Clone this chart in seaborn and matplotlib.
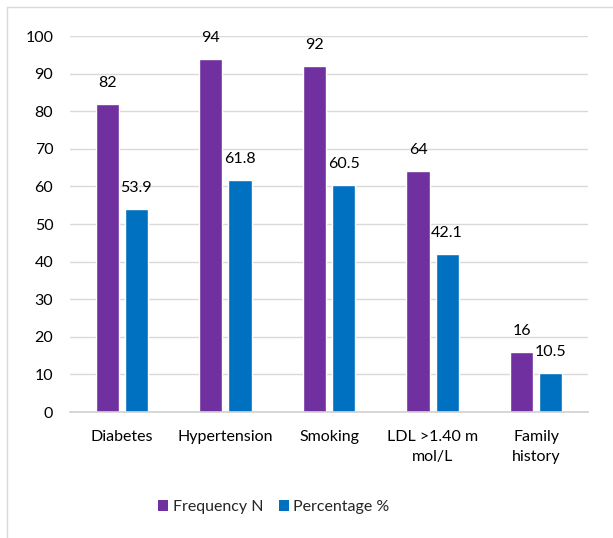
import matplotlib
matplotlib.use("Agg")
import matplotlib.pyplot as plt
from matplotlib.lines import Line2D
from matplotlib.patches import Patch
import seaborn as sns
import pandas as pd

categories = ["Diabetes", "Hypertension", "Smoking", "LDL >1.40 m\nmol/L", "Family\nhistory"]
frequency_n = [82, 94, 92, 64, 16]
percentage = [53.9, 61.8, 60.5, 42.1, 10.5]
series_names = ["Frequency N", "Percentage %"]
colors = ["#7030A0", "#0070C0"]

df = pd.DataFrame({
    "category": categories * 2,
    "value": frequency_n + percentage,
    "series": [series_names[0]] * len(categories) + [series_names[1]] * len(categories),
})

sns.set_theme(style="white")
plt.rcParams["font.family"] = ["Lato", "DejaVu Sans"]

fig = plt.figure(figsize=(6.13, 5.38), dpi=100)
ax = fig.add_axes([70 / 613, 1 - 412 / 538, 518 / 613, 376 / 538])

sns.barplot(data=df, x="category", y="value", hue="series", palette=colors,
            width=0.56, gap=0.2, saturation=1, ax=ax, legend=False, errorbar=None)

for container, vals in zip(ax.containers, [frequency_n, percentage]):
    ax.bar_label(container, labels=[f"{v:g}" for v in vals], padding=10,
                 fontsize=11.5, color="#000000")

ax.set_ylim(0, 100)
ax.set_yticks(range(0, 101, 10))
ax.set_xlim(-0.5, len(categories) - 0.5)
ax.yaxis.grid(True, color="#d9d9d9", linewidth=1)
ax.set_axisbelow(True)
for side in ["left", "right", "top"]:
    ax.spines[side].set_visible(False)
ax.spines["bottom"].set_color("#d0d0d0")
ax.spines["bottom"].set_linewidth(1.2)
ax.tick_params(axis="both", length=0, labelsize=11.5, labelcolor="#000000")
ax.tick_params(axis="y", pad=12)
ax.tick_params(axis="x", pad=13)
for lbl in ax.get_xticklabels():
    lbl.set_linespacing(1.5)
ax.set_xlabel("")
ax.set_ylabel("")

handles = [Patch(facecolor=c, edgecolor="none") for c in colors]
fig.legend(handles, series_names, loc="center", bbox_to_anchor=(274 / 613, 1 - 507 / 538),
           ncol=2, frameon=False, fontsize=11.5, handlelength=0.6, handleheight=0.7,
           handletextpad=0.3, columnspacing=1.0)

# chart frame
fig.add_artist(Line2D([7 / 613, 7 / 613], [0, 1 - 7 / 538], transform=fig.transFigure,
                      color="#d9d9d9", linewidth=1))
fig.add_artist(Line2D([7 / 613, 1], [1 - 7 / 538, 1 - 7 / 538], transform=fig.transFigure,
                      color="#d9d9d9", linewidth=1))

fig.savefig("out.png", dpi=100)
